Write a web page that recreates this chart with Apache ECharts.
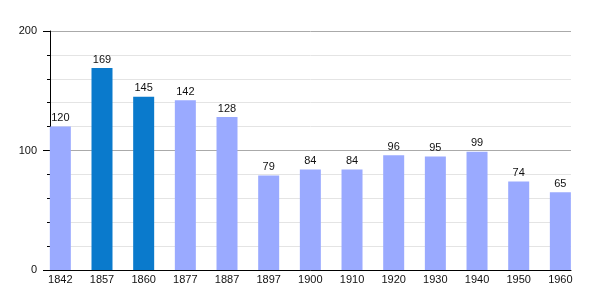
<!DOCTYPE html>
<html><head><meta charset="utf-8">
<script src="https://cdn.jsdelivr.net/npm/echarts@6/dist/echarts.min.js"></script>
<style>html,body{margin:0;padding:0;background:#fff}#c{width:600px;height:300px}</style>
</head><body><div id="c"></div>
<script>
var years = ['1842','1857','1860','1877','1887','1897','1900','1910','1920','1930','1940','1950','1960'];
var population = [120,169,145,142,128,79,84,84,96,95,99,74,65];
var highlighted = ['1857','1860'];
var yTicks = [0,100,200];

var LIGHT = '#9aaaff', DARK = '#0a7acc';
var font = 'Liberation Sans';
var chart = echarts.init(document.getElementById('c'), null, {renderer:'canvas'});
chart.setOption({
  backgroundColor:'#fff',
  animation:false,
  grid:[
    {left:50, right:29, top:31, bottom:30},
    {left:39.5, width:541.7, top:31, bottom:30}
  ],
  xAxis:[
    {gridIndex:0, type:'value', min:0, max:1, axisLine:{show:true, lineStyle:{color:'#000', width:1}},
     axisTick:{show:false}, axisLabel:{show:false}, splitLine:{show:false}},
    {gridIndex:1, type:'category', data:years, axisLine:{show:false}, axisTick:{show:false},
     axisLabel:{color:'#111', fontFamily:font, fontSize:11, margin:4}}
  ],
  yAxis:[
    {gridIndex:0, type:'value', min:yTicks[0], max:yTicks[yTicks.length-1], interval:100,
     axisLine:{show:true, lineStyle:{color:'#000'}},
     axisTick:{show:true, length:7, lineStyle:{color:'#000'}},
     minorTick:{show:true, splitNumber:5, length:3, lineStyle:{color:'#000'}},
     axisLabel:{color:'#111', fontFamily:font, fontSize:11, margin:13},
     splitLine:{show:true, lineStyle:{color:'#aaaaaa'}},
     minorSplitLine:{show:true, lineStyle:{color:'#e4e4e4'}}},
    {gridIndex:1, type:'value', min:0, max:200, show:false, splitLine:{show:false}}
  ],
  series:[{
    type:'bar', xAxisIndex:1, yAxisIndex:1, barWidth:21,
    data: population.map(function(v,i){
      return {value:v, itemStyle:{color: highlighted.indexOf(years[i])>=0 ? DARK : LIGHT}};
    }),
    label:{show:true, position:'top', distance:3, color:'#111', fontFamily:font, fontSize:11}
  }]
});
</script></body></html>
